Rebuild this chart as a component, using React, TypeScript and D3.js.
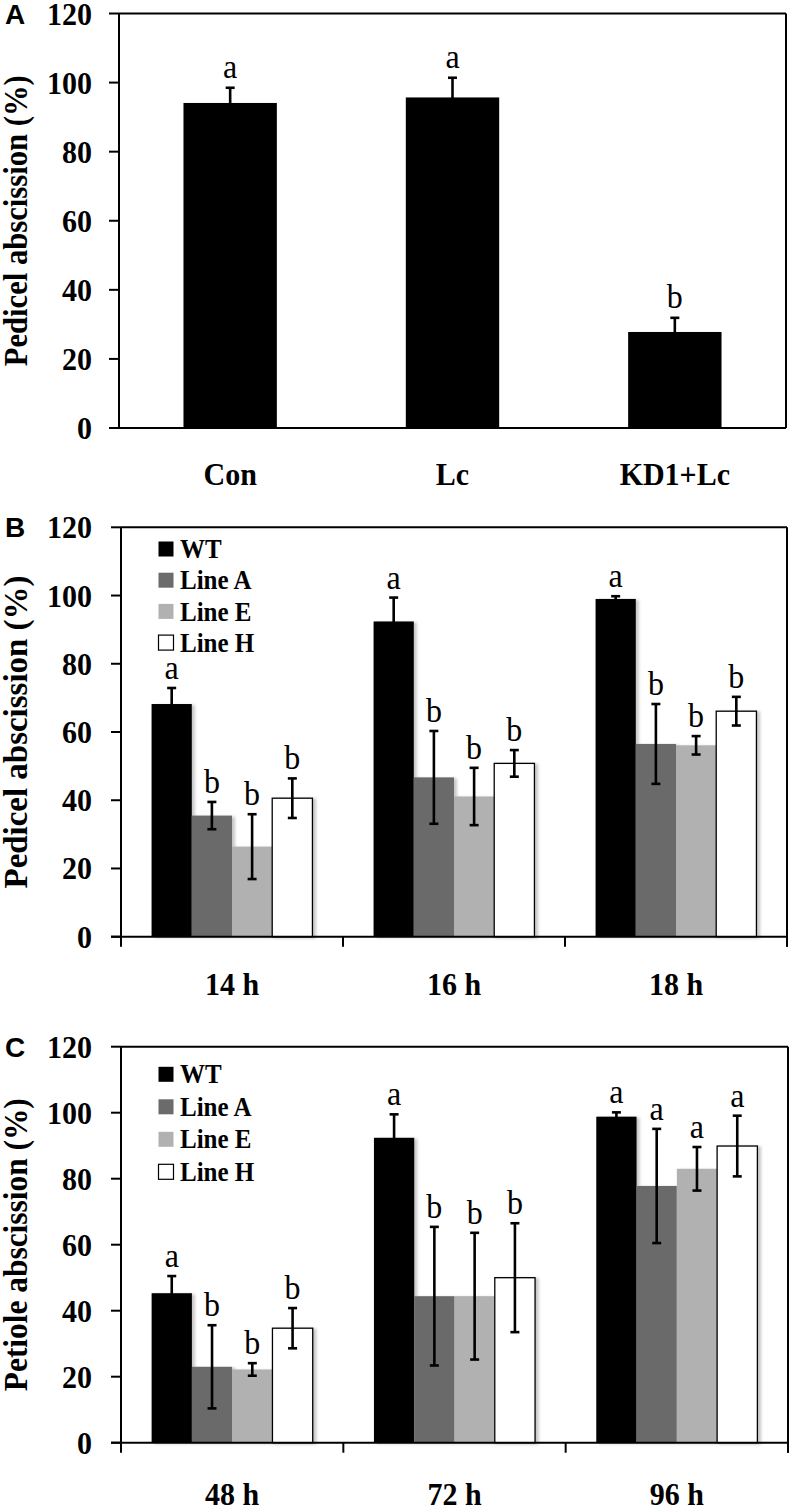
import React from "react";
import * as d3 from "d3";

// panel A
const catsA = ["Con", "Lc", "KD1+Lc"];
const valsA = [94.1, 95.7, 27.8];
const errA = [4.4, 5.7, 4.1];
const lettersA = ["a", "a", "b"];

// legend series for B and C
const seriesNames = ["WT", "Line A", "Line E", "Line H"];
const seriesColors = ["#000000", "#6b6b6b", "#b1b1b1", "#ffffff"];

// panel B
const catsB = ["14 h", "16 h", "18 h"];
const wtB = [68.2, 92.4, 99.0];
const wtErrB = [4.7, 7.0, 0.8];
const lineAB = [35.5, 46.7, 56.5];
const lineAErrB = [4.0, 13.6, 11.7];
const lineEB = [26.4, 41.1, 56.1];
const lineEErrB = [9.5, 8.4, 2.7];
const lineHB = [40.6, 50.8, 66.1];
const lineHErrB = [5.8, 3.9, 4.2];
const lettersB = [
  ["a", "b", "b", "b"],
  ["a", "b", "b", "b"],
  ["a", "b", "b", "b"],
];

// panel C
const catsC = ["48 h", "72 h", "96 h"];
const wtC = [45.3, 92.4, 98.8];
const wtErrC = [5.2, 7.1, 1.3];
const lineAC = [23.0, 44.4, 77.8];
const lineAErrC = [12.6, 21.0, 17.3];
const lineEC = [22.2, 44.4, 83.0];
const lineEErrC = [1.9, 19.2, 6.6];
const lineHC = [34.7, 50.0, 89.9];
const lineHErrC = [6.1, 16.5, 9.2];
const lettersC = [
  ["a", "b", "b", "b"],
  ["a", "b", "b", "b"],
  ["a", "a", "a", "a"],
];

const yTicks = [0, 20, 40, 60, 80, 100, 120];

const serif = "'Liberation Serif', 'Times New Roman', serif";
const sans = "'Liberation Sans', Arial, sans-serif";

type Box = { left: number; right: number; top: number; bottom: number };

// the source figure's type is a bit taller than plain Times, stretch it slightly
function Txt({ x, y, children, anchor = "middle", size = 30, bold = true, dy = undefined }) {
  return (
    <text
      transform={`translate(${x},${y}) scale(1,1.08)`}
      dy={dy}
      textAnchor={anchor}
      fontFamily={serif}
      fontWeight={bold ? "bold" : "normal"}
      fontSize={size}
    >
      {children}
    </text>
  );
}

function YAxis({ box, y, title, titleLen, letter }) {
  return (
    <g>
      <line x1={box.left} x2={box.left} y1={box.top} y2={box.bottom} stroke="#000" strokeWidth={2} />
      {yTicks.map((t) => (
        <g key={t}>
          <line x1={box.left - 10} x2={box.left} y1={y(t)} y2={y(t)} stroke="#000" strokeWidth={2} />
          <Txt x={92} y={y(t)} dy="0.34em" anchor="end">
            {t}
          </Txt>
        </g>
      ))}
      <text
        transform={`translate(27,${(box.top + box.bottom) / 2}) rotate(-90)`}
        textAnchor="middle"
        fontFamily={serif}
        fontWeight="bold"
        fontSize={34}
        textLength={titleLen}
        lengthAdjust="spacingAndGlyphs"
      >
        {title}
      </text>
      <text x={5} y={box.top + 10} fontFamily={sans} fontWeight="bold" fontSize={28}>
        {letter}
      </text>
    </g>
  );
}

function ErrorBar({ x, y0, y1 }) {
  return (
    <g stroke="#000" strokeWidth={2.6}>
      <line x1={x} x2={x} y1={y0} y2={y1} />
      <line x1={x - 4.5} x2={x + 4.5} y1={y0} y2={y0} />
      <line x1={x - 4.5} x2={x + 4.5} y1={y1} y2={y1} />
    </g>
  );
}

function PanelA() {
  const box: Box = { left: 119, right: 786, top: 13.5, bottom: 428 };
  const x = d3.scaleBand().domain(catsA).range([box.left, box.right]).paddingInner(0.58).paddingOuter(0.29);
  const y = d3.scaleLinear().domain([0, 120]).range([box.bottom, box.top]);
  return (
    <g>
      {catsA.map((c, i) => {
        const cx = x(c) + x.bandwidth() / 2;
        const v = valsA[i];
        const e = errA[i];
        return (
          <g key={c}>
            <rect x={x(c)} y={y(v)} width={x.bandwidth()} height={y(0) - y(v)} fill="#000" />
            <ErrorBar x={cx} y0={y(v + e)} y1={y(v - e)} />
            <Txt x={cx} y={y(v + e) - 10} size={32} bold={false}>
              {lettersA[i]}
            </Txt>
            <Txt x={cx} y={485}>
              {c}
            </Txt>
          </g>
        );
      })}
      <line x1={box.left} x2={box.right} y1={box.top} y2={box.top} stroke="#000" strokeWidth={2} />
      <line x1={box.right} x2={box.right} y1={box.top} y2={box.bottom} stroke="#000" strokeWidth={2} />
      <line x1={box.left - 10} x2={box.right} y1={box.bottom} y2={box.bottom} stroke="#000" strokeWidth={2} />
      <YAxis box={box} y={y} title="Pedicel abscission (%)" titleLen={291} letter="A" />
    </g>
  );
}

function GroupPanel({ box, cats, values, errors, letters, title, titleLen, letter, labelY, legendY, legendStep }) {
  const x0 = d3.scaleBand().domain(cats).range([box.left, box.right]).padding(0);
  const x1 = d3
    .scaleBand()
    .domain(seriesNames)
    .range([0, x0.bandwidth()])
    .paddingInner(0)
    .paddingOuter(0.76);
  const y = d3.scaleLinear().domain([0, 120]).range([box.bottom, box.top]);
  const bounds = [box.left, ...cats.map((c) => x0(c) + x0.bandwidth())];
  return (
    <g>
      {cats.map((c, ci) => (
        <g key={c} transform={`translate(${x0(c)},0)`}>
          {seriesNames.map((s, si) => {
            const v = values[si][ci];
            return (
              <rect
                key={s}
                x={x1(s)}
                y={y(v)}
                width={x1.bandwidth()}
                height={y(0) - y(v)}
                fill={seriesColors[si]}
                stroke={si === 3 ? "#000" : "none"}
                strokeWidth={1.3}
                filter="url(#shadow)"
              />
            );
          })}
          {seriesNames.map((s, si) => {
            const v = values[si][ci];
            const e = errors[si][ci];
            const cx = x1(s) + x1.bandwidth() / 2;
            return (
              <g key={s}>
                <ErrorBar x={cx} y0={y(v + e)} y1={y(v - e)} />
                <Txt x={cx} y={y(v + e) - 9} size={32} bold={false}>
                  {letters[ci][si]}
                </Txt>
              </g>
            );
          })}
          <Txt x={x0.bandwidth() / 2} y={labelY}>
            {c}
          </Txt>
        </g>
      ))}
      <line x1={box.left} x2={box.right} y1={box.top} y2={box.top} stroke="#000" strokeWidth={2} />
      <line x1={box.right} x2={box.right} y1={box.top} y2={box.bottom + 10} stroke="#000" strokeWidth={2} />
      <line x1={box.left - 10} x2={box.right} y1={box.bottom} y2={box.bottom} stroke="#000" strokeWidth={2} />
      {bounds.map((b) => (
        <line key={b} x1={b} x2={b} y1={box.bottom} y2={box.bottom + 10} stroke="#000" strokeWidth={2} />
      ))}
      <YAxis box={box} y={y} title={title} titleLen={titleLen} letter={letter} />
      {seriesNames.map((s, si) => (
        <g key={s} transform={`translate(158,${legendY + si * legendStep})`}>
          <rect
            x={0.5}
            y={-7.5}
            width={15}
            height={15}
            fill={seriesColors[si]}
            stroke={si === 3 ? "#000" : "none"}
            strokeWidth={1.2}
          />
          <Txt x={22} y={0} dy="0.34em" anchor="start" size={25}>
            {s}
          </Txt>
        </g>
      ))}
    </g>
  );
}

export default function App() {
  const boxB: Box = { left: 121, right: 787, top: 527.3, bottom: 936.7 };
  const boxC: Box = { left: 121, right: 788, top: 1046.7, bottom: 1442.7 };
  return (
    <div style={{ position: "absolute", left: 0, top: 0 }}>
      <svg width={793} height={1512} style={{ display: "block", background: "#fff" }}>
        <defs>
          <filter id="shadow" x="-20%" y="-5%" width="140%" height="110%">
            <feDropShadow dx={3} dy={1} stdDeviation={1.5} floodColor="#000" floodOpacity={0.22} />
          </filter>
        </defs>
        <PanelA />
        <GroupPanel
          box={boxB}
          cats={catsB}
          values={[wtB, lineAB, lineEB, lineHB]}
          errors={[wtErrB, lineAErrB, lineEErrB, lineHErrB]}
          letters={lettersB}
          title="Pedicel abscission (%)"
          titleLen={313}
          letter="B"
          labelY={995}
          legendY={549}
          legendStep={31.2}
        />
        <GroupPanel
          box={boxC}
          cats={catsC}
          values={[wtC, lineAC, lineEC, lineHC]}
          errors={[wtErrC, lineAErrC, lineEErrC, lineHErrC]}
          letters={lettersC}
          title="Petiole abscission (%)"
          titleLen={293}
          letter="C"
          labelY={1505}
          legendY={1074.3}
          legendStep={32.5}
        />
      </svg>
    </div>
  );
}
